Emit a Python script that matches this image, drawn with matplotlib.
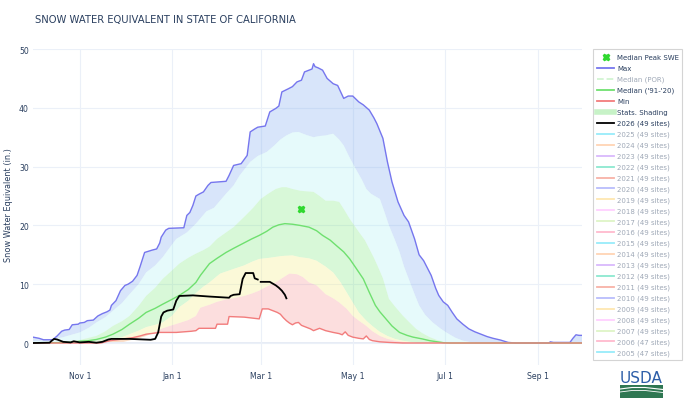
import numpy as np
import matplotlib
matplotlib.use("Agg")
import matplotlib.pyplot as plt
from matplotlib.lines import Line2D
from matplotlib.patches import Rectangle

# days since Oct 1 (water year), SWE in inches
max_days = [0, 4, 7, 13, 16, 19, 21, 24, 26, 30, 31, 34, 36, 40, 43, 46, 49, 51, 52, 55, 58, 61, 63, 66, 69, 71, 74, 79, 82, 84, 85, 88, 90, 100, 102, 104, 106, 108, 110, 113, 116, 118, 128, 130, 133, 138, 142, 144, 147, 149, 154, 157, 161, 163, 165, 169, 172, 175, 178, 180, 183, 185, 186, 187, 189, 192, 195, 199, 202, 206, 209, 212, 216, 219, 223, 226, 228, 232, 235, 238, 242, 246, 249, 253, 256, 259, 262, 264, 267, 269, 272, 275, 278, 281, 285, 289, 293, 297, 301, 305, 310, 315, 320, 342, 343, 345, 356, 358, 360, 362, 364]
max_swe = [1.0, 0.8, 0.55, 0.55, 1.2, 2.0, 2.2, 2.3, 3.1, 3.2, 3.4, 3.5, 3.8, 3.9, 4.6, 5.0, 5.3, 5.6, 6.4, 7.2, 8.9, 9.8, 10.0, 10.5, 11.5, 13.0, 15.4, 15.8, 16.0, 17.0, 18.0, 19.2, 19.5, 19.6, 21.7, 22.2, 23.4, 25.0, 25.3, 25.7, 26.8, 27.3, 27.5, 28.5, 30.2, 30.5, 31.9, 35.9, 36.4, 36.7, 36.9, 39.3, 39.9, 40.3, 42.7, 43.2, 43.6, 44.4, 44.7, 46.1, 46.4, 46.6, 47.5, 47.0, 46.8, 46.4, 45.0, 44.1, 43.8, 41.6, 42.0, 42.0, 41.0, 40.5, 39.6, 38.3, 37.3, 34.8, 30.8, 27.4, 24.0, 21.7, 20.6, 17.7, 15.0, 14.0, 12.5, 11.5, 9.3, 8.1, 7.0, 6.4, 5.2, 4.1, 3.2, 2.4, 1.9, 1.5, 1.1, 0.8, 0.5, 0.1, 0.0, 0.0, 0.2, 0.1, 0.1, 0.8, 1.4, 1.3, 1.3]

p90_days = [0, 10, 20, 31, 37, 42, 48, 53, 59, 64, 70, 75, 81, 86, 90, 95, 102, 108, 115, 120, 128, 133, 137, 141, 144, 149, 155, 160, 164, 168, 172, 176, 181, 186, 190, 194, 199, 203, 206, 210, 214, 218, 221, 224, 228, 230, 233, 236, 240, 243, 246, 250, 253, 256, 260, 265, 270, 274, 280, 285, 290, 295, 364]
p90_swe = [0.3, 0.4, 1.0, 1.8, 2.6, 3.5, 4.4, 5.5, 6.8, 8.3, 10.0, 12.0, 13.2, 14.6, 16.0, 17.7, 18.8, 20.3, 22.4, 23.0, 25.4, 26.8, 28.5, 29.8, 30.8, 31.8, 32.5, 33.6, 34.6, 35.3, 35.8, 35.9, 35.4, 35.0, 35.2, 35.3, 35.6, 34.6, 33.6, 31.5, 29.6, 27.8, 26.2, 25.4, 24.8, 24.5, 22.3, 20.0, 17.5, 15.5, 13.0, 10.3, 8.3, 6.4, 4.8, 3.5, 2.5, 1.8, 0.9, 0.4, 0.15, 0.0, 0.0]

p70_days = [0, 20, 31, 42, 48, 53, 59, 64, 70, 75, 81, 86, 92, 97, 103, 108, 113, 117, 122, 128, 133, 137, 141, 146, 151, 156, 161, 165, 168, 172, 177, 181, 186, 190, 194, 199, 203, 206, 210, 213, 216, 220, 223, 226, 229, 232, 236, 240, 245, 250, 254, 258, 263, 268, 272, 278, 364]
p70_swe = [0.0, 0.2, 0.5, 1.2, 2.0, 2.9, 3.7, 4.6, 6.3, 8.0, 9.4, 10.9, 12.3, 13.5, 14.5, 15.2, 15.8, 16.4, 17.7, 18.8, 19.7, 20.7, 21.7, 23.0, 24.5, 25.4, 26.2, 26.5, 26.5, 26.2, 25.9, 25.8, 25.7, 25.0, 24.2, 24.2, 24.0, 22.8, 21.1, 20.0, 18.9, 17.5, 16.0, 14.5, 12.8, 11.0, 7.5, 6.2, 4.7, 3.4, 2.4, 1.7, 1.0, 0.5, 0.2, 0.0, 0.0]

med_days = [0, 25, 31, 37, 42, 48, 53, 59, 64, 70, 75, 81, 86, 92, 97, 103, 108, 111, 117, 122, 128, 133, 139, 145, 150, 155, 159, 163, 167, 172, 177, 183, 188, 192, 197, 201, 206, 210, 214, 219, 223, 227, 230, 234, 238, 243, 248, 252, 258, 263, 268, 272, 276, 364]
med_swe = [0.0, 0.1, 0.3, 0.4, 0.6, 1.0, 1.5, 2.3, 3.2, 4.2, 5.2, 5.9, 6.6, 7.4, 8.1, 9.1, 10.3, 11.5, 13.5, 14.4, 15.4, 16.1, 16.9, 17.7, 18.3, 19.0, 19.7, 20.1, 20.3, 20.2, 20.0, 19.7, 19.1, 18.3, 17.5, 16.6, 15.5, 14.3, 12.8, 10.9, 8.6, 6.4, 5.3, 4.1, 2.9, 1.8, 1.3, 1.0, 0.7, 0.4, 0.2, 0.05, 0.0, 0.0]

p30_days = [0, 42, 53, 59, 64, 70, 75, 81, 86, 92, 97, 103, 108, 113, 117, 124, 133, 140, 145, 150, 157, 165, 172, 177, 183, 188, 194, 199, 204, 208, 212, 216, 221, 225, 230, 235, 240, 245, 250, 255, 364]
p30_swe = [0.0, 0.2, 0.7, 1.0, 1.5, 2.1, 2.7, 3.1, 3.5, 4.6, 6.1, 7.2, 8.5, 9.6, 10.3, 11.8, 12.6, 13.2, 13.8, 14.3, 14.5, 14.8, 14.9, 14.6, 14.4, 14.0, 13.0, 12.0, 10.3, 8.6, 6.9, 5.2, 3.8, 2.9, 1.9, 1.2, 0.7, 0.4, 0.2, 0.0, 0.0]

p10_days = [0, 60, 70, 75, 81, 86, 92, 97, 103, 108, 111, 117, 122, 128, 133, 140, 145, 150, 155, 161, 165, 170, 175, 179, 183, 188, 194, 199, 203, 208, 212, 216, 221, 225, 230, 235, 240, 245, 250, 364]
p10_swe = [0.0, 0.2, 0.8, 1.2, 1.9, 2.5, 3.0, 3.4, 3.9, 4.6, 6.0, 6.5, 7.0, 7.4, 7.6, 8.0, 8.4, 8.9, 9.6, 10.3, 11.0, 11.8, 11.7, 11.2, 10.3, 9.8, 8.3, 7.6, 6.9, 5.8, 4.6, 3.8, 2.9, 2.0, 1.2, 0.7, 0.4, 0.2, 0.0, 0.0]

min_days = [0, 45, 51, 60, 66, 71, 75, 84, 95, 105, 108, 110, 121, 122, 129, 130, 140, 150, 152, 156, 159, 162, 164, 166, 168, 170, 172, 174, 176, 178, 181, 184, 186, 188, 190, 194, 199, 203, 205, 207, 209, 212, 216, 219, 221, 223, 225, 230, 236, 245, 364]
min_swe = [0.0, 0.0, 0.4, 0.7, 0.9, 1.2, 1.5, 1.8, 1.8, 2.0, 2.1, 2.5, 2.5, 3.2, 3.2, 4.5, 4.4, 4.1, 5.8, 5.8, 5.5, 5.2, 4.9, 4.3, 3.8, 3.4, 3.1, 3.4, 3.5, 3.0, 2.7, 2.4, 2.1, 2.3, 2.5, 2.1, 1.8, 1.6, 1.4, 1.9, 1.3, 1.0, 0.8, 0.7, 1.2, 0.6, 0.4, 0.2, 0.1, 0.0, 0.0]

wy2026_days = [0, 11, 12, 14, 16, 18, 20, 25, 27, 29, 31, 37, 42, 46, 50, 52, 64, 78, 81, 83, 85, 86.5, 89, 93, 95, 97, 106, 117, 130, 131, 133, 137, 139, 141, 146, 147, 149, 150, 151, 157, 161, 163, 165, 167, 168]
wy2026_swe = [0.0, 0.05, 0.3, 0.7, 0.6, 0.4, 0.2, 0.1, 0.3, 0.2, 0.1, 0.2, 0.05, 0.2, 0.6, 0.7, 0.7, 0.55, 0.7, 1.8, 4.5, 5.2, 5.5, 5.7, 7.2, 8.0, 8.1, 7.9, 7.7, 8.0, 8.2, 8.3, 10.9, 11.9, 11.9, 11.0, 10.8, np.nan, 10.4, 10.4, 9.8, 9.4, 8.9, 8.2, 7.6]

peak_day = [178]
peak_swe = [22.8]

tick_days = [31, 92, 151, 212, 273, 335]
tick_labels = ["Nov 1", "Jan 1", "Mar 1", "May 1", "Jul 1", "Sep 1"]

years = list(range(2025, 2004, -1))
sites = [49] * 19 + [47, 47]

W, H = 690, 402
fig = plt.figure(figsize=(W / 100, H / 100), dpi=100)


def fx(x):
    return x / W


def fy(y):
    return 1 - y / H


ax = fig.add_axes([fx(33), fy(366), (582 - 33) / W, (366 - 50) / H])

txt = "#2a3f5f"

def band(xa, ya, xb, yb, color):
    ax.fill(np.r_[xa, xb[::-1]], np.r_[ya, yb[::-1]], color=color, alpha=0.3, lw=0, zorder=1)


band(max_days, max_swe, p90_days, p90_swe, "#7eabef")
band(p90_days, p90_swe, p70_days, p70_swe, "#adeff2")
band(p70_days, p70_swe, p30_days, p30_swe, "#80e880")
band(p30_days, p30_swe, p10_days, p10_swe, "#f5ee80")
band(p10_days, p10_swe, min_days, min_swe, "#f79393")

ax.plot(max_days, max_swe, color="#7676ee", lw=1.0, zorder=3)
ax.plot(med_days, med_swe, color="#6fe06f", lw=1.0, zorder=3)
ax.plot(min_days, min_swe, color="#f27c7c", lw=1.0, zorder=3)
ax.plot(wy2026_days, wy2026_swe, color="black", lw=1.3, zorder=4)
ax.plot(peak_day, peak_swe, ls="none", marker="X", ms=4.5, color="#2fd82f", mec="#2fd82f", zorder=5)

ax.set_xlim(0, 364)
ax.set_ylim(-3.74, 50)
ax.set_xticks(tick_days)
ax.set_xticklabels(tick_labels)
ax.set_yticks([0, 10, 20, 30, 40, 50])
ax.tick_params(length=0, labelsize=5.6, colors=txt)
ax.tick_params(axis="x", pad=4)
ax.tick_params(axis="y", pad=3)
for s in ax.spines.values():
    s.set_visible(False)
ax.grid(color="#ebf0f8", lw=0.8)
ax.set_axisbelow(True)
ax.axhline(0, color="#e3e9f3", lw=1.2, zorder=0.5)

fig.text(fx(35), fy(20), "SNOW WATER EQUIVALENT IN STATE OF CALIFORNIA",
         fontsize=7.2, color=txt, va="center", ha="left")
fig.text(fx(9), fy(205), "Snow Water Equivalent (in.)", rotation=90,
         fontsize=5.9, color=txt, va="center", ha="center")

# legend
fig.add_artist(Rectangle((fx(593), fy(361)), (682 - 593) / W, (361 - 50) / H,
                         transform=fig.transFigure, fc="white", ec="#d4d4d4", lw=0.8))

entries = [
    ("Median Peak SWE", "marker", "#2fd82f", 1.0),
    ("Max", "-", "#7676ee", 1.0),
    ("Median (POR)", "--", "#9be89b", 0.45),
    ("Median ('91-'20)", "-", "#6fe06f", 1.0),
    ("Min", "-", "#f27c7c", 1.0),
    ("Stats. Shading", "thick", "#c7f2c7", 1.0),
    ("2026 (49 sites)", "-", "black", 1.0),
]
palette = ["#19D3F3", "#FFA15A", "#AB63FA", "#00CC96", "#EF553B",
           "#636EFA", "#FECB52", "#FF97FF", "#B6E880", "#FF6692"]
for i, (yr, n) in enumerate(zip(years, sites)):
    entries.append((f"{yr} ({n} sites)", "-", palette[i % 10], 0.45))

for i, (label, kind, col, a) in enumerate(entries):
    y = 58.3 + i * 10.93
    if kind == "marker":
        fig.add_artist(Line2D([fx(605.5)], [fy(y)], ls="none", marker="X", ms=4.5,
                              color=col, transform=fig.transFigure))
    else:
        lw = 4 if kind == "thick" else 1.3
        ls = "--" if kind == "--" else "-"
        fig.add_artist(Line2D([fx(597), fx(614)], [fy(y), fy(y)], color=col, lw=lw,
                              ls=ls, alpha=a, transform=fig.transFigure))
    fig.text(fx(617), fy(y), label, fontsize=5.0, color=txt, alpha=a,
             va="center", ha="left")

# USDA mark
fig.text(fx(641.5), fy(379), "USDA", fontsize=11, color="#2d5ea8",
         va="center", ha="center")
fig.add_artist(Rectangle((fx(620), fy(399)), 43 / W, 13 / H,
                         transform=fig.transFigure, fc="#2f7752", ec="none"))
sx = np.array([620, 632, 645, 663])
fig.add_artist(Line2D(fx(sx), fy(np.array([390, 388.5, 388.5, 390.5])), color="white",
                      lw=0.8, transform=fig.transFigure))
fig.add_artist(Line2D(fx(sx), fy(np.array([393, 391.5, 391.5, 393.5])), color="white",
                      lw=0.6, transform=fig.transFigure))

fig.savefig("out.png", dpi=100)
